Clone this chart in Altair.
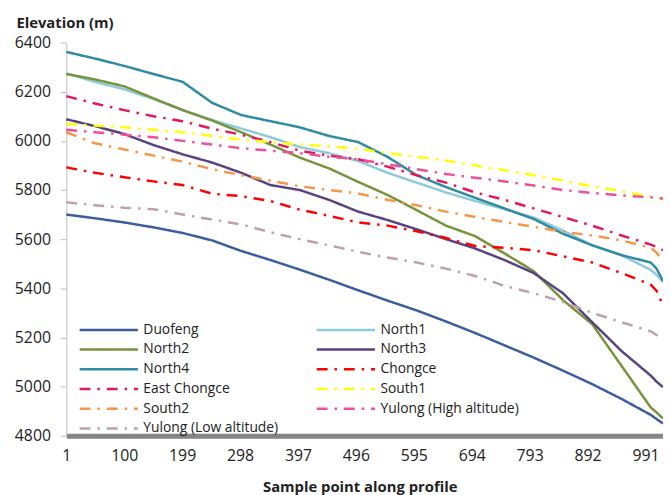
import altair as alt
import pandas as pd

# Sample positions along the profile at which values were read
x_points = [1, 50, 100, 150, 200, 250, 300, 350, 400, 450, 500, 550, 600, 650,
            700, 750, 800, 850, 900, 950, 1000, 1010, 1021]

series_names = ["Duofeng", "North1", "North2", "North3", "North4", "Chongce",
                "East Chongce", "South1", "South2", "Yulong (High altitude)",
                "Yulong (Low altitude)"]

duofeng = [5700, 5685, 5668, 5648, 5625, 5595, 5552, 5515, 5476, 5435, 5392, 5350,
           5310, 5265, 5218, 5168, 5118, 5065, 5010, 4950, 4885, 4868, 4850]
north1 = [6275, 6240, 6210, 6170, 6125, 6085, 6050, 6015, 5975, 5950, 5918, 5870,
          5830, 5790, 5755, 5722, 5688, 5635, 5575, 5535, 5475, 5455, 5425]
north2 = [6272, 6250, 6222, 6173, 6125, 6083, 6035, 5985, 5932, 5888, 5833, 5780,
          5718, 5655, 5612, 5542, 5470, 5352, 5254, 5085, 4915, 4895, 4870]
north3 = [6088, 6060, 6028, 5983, 5945, 5912, 5870, 5820, 5800, 5760, 5712, 5678,
          5640, 5600, 5562, 5515, 5462, 5380, 5262, 5145, 5045, 5020, 4998]
north4 = [6362, 6335, 6305, 6272, 6240, 6155, 6105, 6080, 6055, 6020, 5995, 5935,
          5860, 5812, 5768, 5725, 5682, 5622, 5575, 5535, 5505, 5480, 5430]
chongce = [5892, 5870, 5852, 5835, 5820, 5785, 5775, 5755, 5720, 5695, 5668, 5655,
           5632, 5605, 5572, 5565, 5555, 5530, 5505, 5462, 5415, 5390, 5330]
east_chongce = [6182, 6152, 6125, 6100, 6080, 6050, 6025, 5995, 5960, 5940, 5925,
                5895, 5860, 5830, 5790, 5760, 5725, 5690, 5655, 5615, 5578, 5568, 5555]
south1 = [6070, 6062, 6055, 6045, 6035, 6020, 6005, 5995, 5985, 5978, 5968, 5950,
          5935, 5920, 5900, 5880, 5860, 5838, 5815, 5795, 5772, 5768, 5762]
south2 = [6035, 5990, 5965, 5940, 5915, 5885, 5860, 5838, 5815, 5800, 5786, 5760,
          5738, 5712, 5690, 5670, 5650, 5630, 5615, 5595, 5565, 5545, 5510]
yulong_high = [6045, 6035, 6025, 6015, 6000, 5985, 5970, 5960, 5950, 5935, 5925,
               5905, 5885, 5865, 5850, 5835, 5818, 5800, 5788, 5778, 5770, 5768, 5765]
yulong_low = [5750, 5738, 5728, 5722, 5700, 5680, 5660, 5628, 5600, 5575, 5548, 5525,
              5505, 5480, 5450, 5410, 5380, 5345, 5300, 5262, 5225, 5210, 5195]

all_values = [duofeng, north1, north2, north3, north4, chongce, east_chongce,
              south1, south2, yulong_high, yulong_low]

x_ticks = [1, 100, 199, 298, 397, 496, 595, 694, 793, 892, 991]
y_ticks = [4800, 5000, 5200, 5400, 5600, 5800, 6000, 6200, 6400]

colors = ["#3A5DA0", "#8DCBDB", "#77933C", "#5A4282", "#2F8BA4", "#FF0000",
          "#E5175A", "#FFFF00", "#F79646", "#F0509A", "#C0A0A8"]
solid = [1, 0]
dashdot = [11, 7, 2.5, 7]
dashes = [solid, solid, solid, solid, solid, dashdot, dashdot, dashdot, dashdot,
          dashdot, dashdot]
widths = [2.5, 2.5, 2.5, 2.5, 2.5, 3.5, 3.5, 3.5, 3.5, 3.5, 3.5]

rows = []
for name, vals in zip(series_names, all_values):
    for xi, v in zip(x_points, vals):
        rows.append({"Sample": xi, "Elevation": v, "Series": name})
df = pd.DataFrame(rows)

FONT = "Open Sans"
TXT = "#222222"

legend = alt.Legend(
    title=None, orient="none", legendX=12, legendY=281, columns=2,
    direction="horizontal",
    symbolType="stroke", symbolSize=3481, symbolStrokeWidth=3,
    clipHeight=19.4, rowPadding=0, columnPadding=37, labelOffset=4,
    labelFont=FONT, labelFontSize=14, labelColor=TXT, labelLimit=300, padding=0,
)

chart = alt.Chart(df).mark_line(strokeCap="butt", strokeJoin="round").encode(
    x=alt.X("Sample:Q",
            scale=alt.Scale(domain=[1, 1021], nice=False, zero=False),
            axis=alt.Axis(values=x_ticks, title="Sample point along profile",
                          grid=False, ticks=False, labelFlush=False, labelOverlap=False,
                          labelPadding=12, labelFont=FONT, labelFontSize=16,
                          labelColor=TXT, domainColor="#858585", domainWidth=5,
                          titleFont=FONT, titleFontSize=15, titleFontWeight="bold",
                          titleColor=TXT, titleX=297, titleY=51,
                          titleBaseline="middle", titleAlign="center")),
    y=alt.Y("Elevation:Q",
            scale=alt.Scale(domain=[4800, 6400], nice=False, zero=False),
            axis=alt.Axis(values=y_ticks, format="d", title="Elevation (m)", grid=False,
                          tickSize=6, tickColor="#bfbfbf", domainColor="#bfbfbf",
                          labelPadding=10, labelFont=FONT, labelFontSize=16,
                          labelColor=TXT, titleFont=FONT, titleFontSize=15,
                          titleFontWeight="bold", titleColor=TXT, titleAngle=0,
                          titleAlign="left", titleBaseline="middle",
                          titleX=-51, titleY=-20)),
    color=alt.Color("Series:N", scale=alt.Scale(domain=series_names, range=colors),
                    legend=legend),
    strokeDash=alt.StrokeDash("Series:N", scale=alt.Scale(domain=series_names, range=dashes),
                              legend=legend),
    strokeWidth=alt.StrokeWidth("Series:N", scale=alt.Scale(domain=series_names, range=widths),
                                legend=None),
).properties(
    width=604, height=398,
    autosize=alt.AutoSizeParams(type="none"),
    padding={"left": 59, "top": 32, "right": 0, "bottom": 57},
).configure_view(strokeWidth=0)

chart.save("out.html", embed_options={"renderer": "svg", "actions": False})
